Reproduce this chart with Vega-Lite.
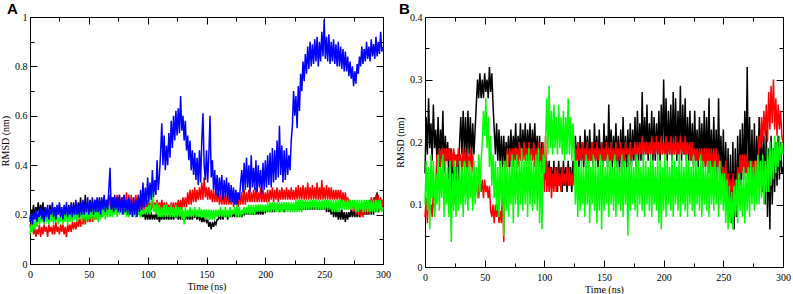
{
"$schema":"https://vega.github.io/schema/vega-lite/v6.json",
"padding":{"left":0,"top":2,"right":0,"bottom":0},
"background":"white",
"config":{"view":{"stroke":null},"axis":{"grid":false,"domainColor":"#000","tickColor":"#000","domainWidth":1,"tickWidth":1,"labelFont":"Liberation Serif, Times New Roman, DejaVu Serif, serif","labelFontSize":10,"labelColor":"#000","titleFont":"Liberation Serif, Times New Roman, DejaVu Serif, serif","titleFontSize":10,"titleFontWeight":"normal","titleColor":"#000","labelFlush":false,"labelOverlap":false}},
"datasets":{
"A":[
{"t":0,"k":0.18,"r":0.16,"g":0.12,"b":0.17},{"t":1,"k":0.22,"r":0.13,"g":0.16,"b":0.2},{"t":2,"k":0.2,"r":0.17,"g":0.13,"b":0.16},{"t":3,"k":0.24,"r":0.12,"g":0.18,"b":0.21},{"t":4,"k":0.19,"r":0.15,"g":0.14,"b":0.18},{"t":5,"k":0.23,"r":0.11,"g":0.19,"b":0.22},{"t":6,"k":0.21,"r":0.14,"g":0.15,"b":0.17},{"t":7,"k":0.25,"r":0.12,"g":0.2,"b":0.21},{"t":8,"k":0.2,"r":0.16,"g":0.16,"b":0.19},{"t":9,"k":0.24,"r":0.11,"g":0.19,"b":0.23},
{"t":10,"k":0.21,"r":0.15,"g":0.17,"b":0.18},{"t":11,"k":0.25,"r":0.12,"g":0.2,"b":0.22},{"t":12,"k":0.2,"r":0.16,"g":0.16,"b":0.17},{"t":13,"k":0.23,"r":0.13,"g":0.21,"b":0.23},{"t":14,"k":0.19,"r":0.15,"g":0.17,"b":0.19},{"t":15,"k":0.22,"r":0.11,"g":0.2,"b":0.24},{"t":16,"k":0.2,"r":0.16,"g":0.16,"b":0.18},{"t":17,"k":0.24,"r":0.13,"g":0.22,"b":0.22},{"t":18,"k":0.19,"r":0.15,"g":0.17,"b":0.2},{"t":19,"k":0.22,"r":0.12,"g":0.21,"b":0.25},
{"t":20,"k":0.2,"r":0.16,"g":0.16,"b":0.19},{"t":21,"k":0.23,"r":0.12,"g":0.2,"b":0.23},{"t":22,"k":0.19,"r":0.17,"g":0.17,"b":0.18},{"t":23,"k":0.22,"r":0.13,"g":0.22,"b":0.24},{"t":24,"k":0.2,"r":0.15,"g":0.16,"b":0.2},{"t":25,"k":0.24,"r":0.12,"g":0.19,"b":0.25},{"t":26,"k":0.19,"r":0.16,"g":0.17,"b":0.19},{"t":27,"k":0.22,"r":0.13,"g":0.21,"b":0.23},{"t":28,"k":0.2,"r":0.16,"g":0.16,"b":0.18},{"t":29,"k":0.23,"r":0.12,"g":0.2,"b":0.24},
{"t":30,"k":0.19,"r":0.15,"g":0.17,"b":0.2},{"t":31,"k":0.22,"r":0.11,"g":0.21,"b":0.25},{"t":32,"k":0.2,"r":0.16,"g":0.16,"b":0.19},{"t":33,"k":0.24,"r":0.13,"g":0.22,"b":0.23},{"t":34,"k":0.19,"r":0.16,"g":0.17,"b":0.2},{"t":35,"k":0.23,"r":0.13,"g":0.21,"b":0.25},{"t":36,"k":0.2,"r":0.17,"g":0.17,"b":0.19},{"t":37,"k":0.25,"r":0.14,"g":0.23,"b":0.24},{"t":38,"k":0.21,"r":0.17,"g":0.18,"b":0.2},{"t":39,"k":0.24,"r":0.14,"g":0.22,"b":0.26},
{"t":40,"k":0.2,"r":0.18,"g":0.17,"b":0.2},{"t":41,"k":0.25,"r":0.15,"g":0.23,"b":0.24},{"t":42,"k":0.21,"r":0.19,"g":0.18,"b":0.19},{"t":43,"k":0.27,"r":0.15,"g":0.24,"b":0.25},{"t":44,"k":0.2,"r":0.19,"g":0.17,"b":0.2},{"t":45,"k":0.25,"r":0.16,"g":0.22,"b":0.26},{"t":46,"k":0.21,"r":0.2,"g":0.18,"b":0.2},{"t":47,"k":0.28,"r":0.16,"g":0.23,"b":0.25},{"t":48,"k":0.21,"r":0.2,"g":0.17,"b":0.21},{"t":49,"k":0.25,"r":0.17,"g":0.24,"b":0.27},
{"t":50,"k":0.2,"r":0.2,"g":0.18,"b":0.2},{"t":51,"k":0.26,"r":0.17,"g":0.22,"b":0.25},{"t":52,"k":0.21,"r":0.21,"g":0.18,"b":0.21},{"t":53,"k":0.25,"r":0.17,"g":0.23,"b":0.27},{"t":54,"k":0.2,"r":0.22,"g":0.17,"b":0.2},{"t":55,"k":0.26,"r":0.18,"g":0.22,"b":0.26},{"t":56,"k":0.22,"r":0.22,"g":0.18,"b":0.21},{"t":57,"k":0.25,"r":0.18,"g":0.23,"b":0.27},{"t":58,"k":0.21,"r":0.23,"g":0.17,"b":0.21},{"t":59,"k":0.27,"r":0.19,"g":0.24,"b":0.26},
{"t":60,"k":0.22,"r":0.23,"g":0.18,"b":0.2},{"t":61,"k":0.26,"r":0.19,"g":0.23,"b":0.27},{"t":62,"k":0.21,"r":0.24,"g":0.19,"b":0.22},{"t":63,"k":0.27,"r":0.2,"g":0.24,"b":0.28},{"t":64,"k":0.22,"r":0.25,"g":0.18,"b":0.21},{"t":65,"k":0.26,"r":0.2,"g":0.23,"b":0.26},{"t":66,"k":0.21,"r":0.25,"g":0.19,"b":0.22},{"t":67,"k":0.28,"r":0.21,"g":0.24,"b":0.3},{"t":68,"k":0.22,"r":0.26,"g":0.19,"b":0.39},{"t":69,"k":0.26,"r":0.21,"g":0.23,"b":0.22},
{"t":70,"k":0.21,"r":0.27,"g":0.19,"b":0.27},{"t":71,"k":0.27,"r":0.21,"g":0.24,"b":0.21},{"t":72,"k":0.22,"r":0.27,"g":0.2,"b":0.28},{"t":73,"k":0.26,"r":0.22,"g":0.24,"b":0.22},{"t":74,"k":0.21,"r":0.28,"g":0.19,"b":0.27},{"t":75,"k":0.27,"r":0.22,"g":0.25,"b":0.21},{"t":76,"k":0.22,"r":0.28,"g":0.2,"b":0.28},{"t":77,"k":0.26,"r":0.22,"g":0.24,"b":0.21},{"t":78,"k":0.21,"r":0.27,"g":0.2,"b":0.27},{"t":79,"k":0.27,"r":0.22,"g":0.25,"b":0.2},
{"t":80,"k":0.22,"r":0.28,"g":0.2,"b":0.28},{"t":81,"k":0.26,"r":0.22,"g":0.24,"b":0.21},{"t":82,"k":0.21,"r":0.29,"g":0.19,"b":0.26},{"t":83,"k":0.25,"r":0.22,"g":0.23,"b":0.2},{"t":84,"k":0.2,"r":0.28,"g":0.19,"b":0.27},{"t":85,"k":0.25,"r":0.21,"g":0.23,"b":0.2},{"t":86,"k":0.21,"r":0.28,"g":0.2,"b":0.26},{"t":87,"k":0.24,"r":0.22,"g":0.22,"b":0.19},{"t":88,"k":0.2,"r":0.27,"g":0.19,"b":0.27},{"t":89,"k":0.24,"r":0.22,"g":0.23,"b":0.2},
{"t":90,"k":0.19,"r":0.28,"g":0.19,"b":0.26},{"t":91,"k":0.23,"r":0.22,"g":0.22,"b":0.19},{"t":92,"k":0.2,"r":0.27,"g":0.2,"b":0.28},{"t":93,"k":0.23,"r":0.21,"g":0.23,"b":0.21},{"t":94,"k":0.19,"r":0.27,"g":0.19,"b":0.3},{"t":95,"k":0.22,"r":0.22,"g":0.22,"b":0.22},{"t":96,"k":0.19,"r":0.26,"g":0.2,"b":0.33},{"t":97,"k":0.22,"r":0.22,"g":0.22,"b":0.23},{"t":98,"k":0.18,"r":0.26,"g":0.2,"b":0.31},{"t":99,"k":0.21,"r":0.22,"g":0.23,"b":0.24},
{"t":100,"k":0.18,"r":0.26,"g":0.2,"b":0.35},{"t":101,"k":0.21,"r":0.22,"g":0.24,"b":0.25},{"t":102,"k":0.18,"r":0.25,"g":0.2,"b":0.33},{"t":103,"k":0.21,"r":0.22,"g":0.25,"b":0.26},{"t":104,"k":0.18,"r":0.26,"g":0.3,"b":0.38},{"t":105,"k":0.2,"r":0.22,"g":0.21,"b":0.27},{"t":106,"k":0.18,"r":0.25,"g":0.24,"b":0.34},{"t":107,"k":0.21,"r":0.22,"g":0.2,"b":0.28},{"t":108,"k":0.18,"r":0.26,"g":0.25,"b":0.42},{"t":109,"k":0.2,"r":0.22,"g":0.19,"b":0.3},
{"t":110,"k":0.17,"r":0.25,"g":0.24,"b":0.36},{"t":111,"k":0.2,"r":0.22,"g":0.19,"b":0.45},{"t":112,"k":0.18,"r":0.26,"g":0.23,"b":0.57},{"t":113,"k":0.21,"r":0.22,"g":0.19,"b":0.4},{"t":114,"k":0.18,"r":0.25,"g":0.24,"b":0.52},{"t":115,"k":0.2,"r":0.21,"g":0.19,"b":0.38},{"t":116,"k":0.18,"r":0.25,"g":0.24,"b":0.48},{"t":117,"k":0.2,"r":0.22,"g":0.19,"b":0.4},{"t":118,"k":0.18,"r":0.24,"g":0.23,"b":0.53},{"t":119,"k":0.21,"r":0.21,"g":0.19,"b":0.43},
{"t":120,"k":0.18,"r":0.25,"g":0.24,"b":0.58},{"t":121,"k":0.2,"r":0.22,"g":0.19,"b":0.47},{"t":122,"k":0.18,"r":0.25,"g":0.23,"b":0.6},{"t":123,"k":0.2,"r":0.21,"g":0.19,"b":0.5},{"t":124,"k":0.19,"r":0.25,"g":0.24,"b":0.62},{"t":125,"k":0.21,"r":0.22,"g":0.19,"b":0.52},{"t":126,"k":0.18,"r":0.26,"g":0.23,"b":0.63},{"t":127,"k":0.2,"r":0.22,"g":0.19,"b":0.53},{"t":128,"k":0.18,"r":0.26,"g":0.23,"b":0.68},{"t":129,"k":0.2,"r":0.22,"g":0.18,"b":0.54},
{"t":130,"k":0.18,"r":0.27,"g":0.22,"b":0.6},{"t":131,"k":0.2,"r":0.23,"g":0.16,"b":0.5},{"t":132,"k":0.18,"r":0.27,"g":0.23,"b":0.58},{"t":133,"k":0.2,"r":0.23,"g":0.19,"b":0.46},{"t":134,"k":0.18,"r":0.29,"g":0.22,"b":0.52},{"t":135,"k":0.2,"r":0.24,"g":0.19,"b":0.42},{"t":136,"k":0.18,"r":0.3,"g":0.23,"b":0.5},{"t":137,"k":0.2,"r":0.24,"g":0.19,"b":0.38},{"t":138,"k":0.18,"r":0.3,"g":0.22,"b":0.46},{"t":139,"k":0.2,"r":0.25,"g":0.19,"b":0.36},
{"t":140,"k":0.19,"r":0.31,"g":0.23,"b":0.45},{"t":141,"k":0.2,"r":0.25,"g":0.19,"b":0.34},{"t":142,"k":0.18,"r":0.3,"g":0.22,"b":0.43},{"t":143,"k":0.2,"r":0.26,"g":0.19,"b":0.32},{"t":144,"k":0.18,"r":0.31,"g":0.23,"b":0.46},{"t":145,"k":0.19,"r":0.26,"g":0.19,"b":0.33},{"t":146,"k":0.17,"r":0.33,"g":0.22,"b":0.5},{"t":147,"k":0.19,"r":0.26,"g":0.19,"b":0.61},{"t":148,"k":0.17,"r":0.35,"g":0.22,"b":0.4},{"t":149,"k":0.19,"r":0.27,"g":0.18,"b":0.34},
{"t":150,"k":0.17,"r":0.31,"g":0.22,"b":0.46},{"t":151,"k":0.18,"r":0.26,"g":0.18,"b":0.33},{"t":152,"k":0.15,"r":0.31,"g":0.22,"b":0.44},{"t":153,"k":0.17,"r":0.26,"g":0.18,"b":0.6},{"t":154,"k":0.14,"r":0.3,"g":0.22,"b":0.35},{"t":155,"k":0.17,"r":0.25,"g":0.18,"b":0.42},{"t":156,"k":0.15,"r":0.3,"g":0.22,"b":0.3},{"t":157,"k":0.17,"r":0.25,"g":0.18,"b":0.38},{"t":158,"k":0.16,"r":0.29,"g":0.22,"b":0.28},{"t":159,"k":0.18,"r":0.25,"g":0.19,"b":0.36},
{"t":160,"k":0.18,"r":0.3,"g":0.22,"b":0.27},{"t":161,"k":0.2,"r":0.24,"g":0.19,"b":0.35},{"t":162,"k":0.18,"r":0.29,"g":0.23,"b":0.28},{"t":163,"k":0.21,"r":0.24,"g":0.19,"b":0.36},{"t":164,"k":0.18,"r":0.29,"g":0.22,"b":0.26},{"t":165,"k":0.21,"r":0.24,"g":0.19,"b":0.34},{"t":166,"k":0.19,"r":0.28,"g":0.23,"b":0.27},{"t":167,"k":0.21,"r":0.24,"g":0.19,"b":0.35},{"t":168,"k":0.18,"r":0.29,"g":0.22,"b":0.26},{"t":169,"k":0.21,"r":0.24,"g":0.19,"b":0.33},
{"t":170,"k":0.19,"r":0.28,"g":0.23,"b":0.25},{"t":171,"k":0.21,"r":0.24,"g":0.19,"b":0.32},{"t":172,"k":0.19,"r":0.29,"g":0.22,"b":0.25},{"t":173,"k":0.21,"r":0.23,"g":0.2,"b":0.31},{"t":174,"k":0.19,"r":0.28,"g":0.23,"b":0.24},{"t":175,"k":0.21,"r":0.24,"g":0.19,"b":0.3},{"t":176,"k":0.19,"r":0.29,"g":0.25,"b":0.24},{"t":177,"k":0.21,"r":0.23,"g":0.19,"b":0.29},{"t":178,"k":0.19,"r":0.28,"g":0.23,"b":0.26},{"t":179,"k":0.21,"r":0.24,"g":0.19,"b":0.33},
{"t":180,"k":0.19,"r":0.29,"g":0.22,"b":0.38},{"t":181,"k":0.21,"r":0.24,"g":0.2,"b":0.29},{"t":182,"k":0.2,"r":0.3,"g":0.23,"b":0.41},{"t":183,"k":0.22,"r":0.24,"g":0.2,"b":0.3},{"t":184,"k":0.2,"r":0.29,"g":0.23,"b":0.43},{"t":185,"k":0.22,"r":0.25,"g":0.2,"b":0.31},{"t":186,"k":0.2,"r":0.3,"g":0.24,"b":0.4},{"t":187,"k":0.22,"r":0.25,"g":0.2,"b":0.29},{"t":188,"k":0.2,"r":0.29,"g":0.24,"b":0.44},{"t":189,"k":0.22,"r":0.25,"g":0.2,"b":0.31},
{"t":190,"k":0.2,"r":0.3,"g":0.24,"b":0.39},{"t":191,"k":0.22,"r":0.25,"g":0.2,"b":0.3},{"t":192,"k":0.2,"r":0.31,"g":0.24,"b":0.42},{"t":193,"k":0.22,"r":0.25,"g":0.21,"b":0.29},{"t":194,"k":0.2,"r":0.29,"g":0.24,"b":0.4},{"t":195,"k":0.22,"r":0.25,"g":0.21,"b":0.31},{"t":196,"k":0.2,"r":0.31,"g":0.24,"b":0.38},{"t":197,"k":0.22,"r":0.25,"g":0.21,"b":0.28},{"t":198,"k":0.2,"r":0.3,"g":0.24,"b":0.41},{"t":199,"k":0.22,"r":0.25,"g":0.21,"b":0.3},
{"t":200,"k":0.21,"r":0.29,"g":0.24,"b":0.42},{"t":201,"k":0.23,"r":0.25,"g":0.21,"b":0.31},{"t":202,"k":0.21,"r":0.3,"g":0.25,"b":0.44},{"t":203,"k":0.23,"r":0.25,"g":0.21,"b":0.32},{"t":204,"k":0.21,"r":0.3,"g":0.25,"b":0.45},{"t":205,"k":0.23,"r":0.26,"g":0.21,"b":0.31},{"t":206,"k":0.21,"r":0.31,"g":0.25,"b":0.47},{"t":207,"k":0.24,"r":0.25,"g":0.21,"b":0.33},{"t":208,"k":0.21,"r":0.3,"g":0.25,"b":0.46},{"t":209,"k":0.24,"r":0.26,"g":0.21,"b":0.34},
{"t":210,"k":0.22,"r":0.31,"g":0.25,"b":0.5},{"t":211,"k":0.24,"r":0.25,"g":0.21,"b":0.35},{"t":212,"k":0.21,"r":0.3,"g":0.25,"b":0.56},{"t":213,"k":0.24,"r":0.26,"g":0.21,"b":0.36},{"t":214,"k":0.22,"r":0.31,"g":0.25,"b":0.48},{"t":215,"k":0.24,"r":0.26,"g":0.21,"b":0.33},{"t":216,"k":0.21,"r":0.3,"g":0.25,"b":0.46},{"t":217,"k":0.24,"r":0.26,"g":0.21,"b":0.34},{"t":218,"k":0.22,"r":0.31,"g":0.25,"b":0.47},{"t":219,"k":0.24,"r":0.26,"g":0.21,"b":0.36},
{"t":220,"k":0.22,"r":0.3,"g":0.25,"b":0.44},{"t":221,"k":0.24,"r":0.26,"g":0.21,"b":0.38},{"t":222,"k":0.22,"r":0.31,"g":0.25,"b":0.5},{"t":223,"k":0.24,"r":0.26,"g":0.21,"b":0.56},{"t":224,"k":0.22,"r":0.3,"g":0.25,"b":0.7},{"t":225,"k":0.24,"r":0.26,"g":0.21,"b":0.6},{"t":226,"k":0.22,"r":0.31,"g":0.26,"b":0.68},{"t":227,"k":0.25,"r":0.26,"g":0.21,"b":0.55},{"t":228,"k":0.22,"r":0.32,"g":0.26,"b":0.72},{"t":229,"k":0.25,"r":0.26,"g":0.21,"b":0.62},
{"t":230,"k":0.22,"r":0.31,"g":0.26,"b":0.77},{"t":231,"k":0.25,"r":0.26,"g":0.21,"b":0.7},{"t":232,"k":0.22,"r":0.32,"g":0.26,"b":0.82},{"t":233,"k":0.25,"r":0.26,"g":0.22,"b":0.74},{"t":234,"k":0.22,"r":0.31,"g":0.26,"b":0.85},{"t":235,"k":0.25,"r":0.26,"g":0.22,"b":0.77},{"t":236,"k":0.22,"r":0.33,"g":0.26,"b":0.88},{"t":237,"k":0.25,"r":0.26,"g":0.22,"b":0.79},{"t":238,"k":0.22,"r":0.31,"g":0.26,"b":0.9},{"t":239,"k":0.25,"r":0.26,"g":0.22,"b":0.8},
{"t":240,"k":0.22,"r":0.32,"g":0.26,"b":0.89},{"t":241,"k":0.25,"r":0.26,"g":0.22,"b":0.81},{"t":242,"k":0.22,"r":0.31,"g":0.26,"b":0.91},{"t":243,"k":0.25,"r":0.26,"g":0.22,"b":0.82},{"t":244,"k":0.22,"r":0.33,"g":0.26,"b":0.92},{"t":245,"k":0.25,"r":0.26,"g":0.22,"b":0.8},{"t":246,"k":0.22,"r":0.31,"g":0.26,"b":0.9},{"t":247,"k":0.25,"r":0.26,"g":0.22,"b":0.82},{"t":248,"k":0.22,"r":0.34,"g":0.26,"b":0.94},{"t":249,"k":0.25,"r":0.26,"g":0.22,"b":0.84},
{"t":250,"k":0.22,"r":0.31,"g":0.26,"b":0.99},{"t":251,"k":0.24,"r":0.26,"g":0.22,"b":0.83},{"t":252,"k":0.21,"r":0.32,"g":0.26,"b":0.92},{"t":253,"k":0.24,"r":0.26,"g":0.22,"b":0.82},{"t":254,"k":0.21,"r":0.31,"g":0.26,"b":0.93},{"t":255,"k":0.23,"r":0.26,"g":0.22,"b":0.81},{"t":256,"k":0.2,"r":0.31,"g":0.26,"b":0.9},{"t":257,"k":0.23,"r":0.26,"g":0.21,"b":0.82},{"t":258,"k":0.19,"r":0.3,"g":0.26,"b":0.91},{"t":259,"k":0.23,"r":0.26,"g":0.21,"b":0.81},
{"t":260,"k":0.19,"r":0.3,"g":0.26,"b":0.89},{"t":261,"k":0.22,"r":0.26,"g":0.21,"b":0.8},{"t":262,"k":0.18,"r":0.3,"g":0.26,"b":0.9},{"t":263,"k":0.22,"r":0.26,"g":0.21,"b":0.8},{"t":264,"k":0.18,"r":0.3,"g":0.26,"b":0.88},{"t":265,"k":0.22,"r":0.25,"g":0.22,"b":0.79},{"t":266,"k":0.18,"r":0.29,"g":0.26,"b":0.87},{"t":267,"k":0.21,"r":0.25,"g":0.22,"b":0.78},{"t":268,"k":0.17,"r":0.29,"g":0.26,"b":0.86},{"t":269,"k":0.21,"r":0.24,"g":0.22,"b":0.78},
{"t":270,"k":0.18,"r":0.27,"g":0.26,"b":0.84},{"t":271,"k":0.21,"r":0.24,"g":0.22,"b":0.76},{"t":272,"k":0.19,"r":0.26,"g":0.26,"b":0.82},{"t":273,"k":0.22,"r":0.22,"g":0.22,"b":0.75},{"t":274,"k":0.19,"r":0.25,"g":0.26,"b":0.8},{"t":275,"k":0.22,"r":0.21,"g":0.22,"b":0.72},{"t":276,"k":0.19,"r":0.25,"g":0.26,"b":0.78},{"t":277,"k":0.22,"r":0.2,"g":0.21,"b":0.73},{"t":278,"k":0.19,"r":0.24,"g":0.26,"b":0.81},{"t":279,"k":0.23,"r":0.2,"g":0.21,"b":0.77},
{"t":280,"k":0.19,"r":0.24,"g":0.26,"b":0.84},{"t":281,"k":0.24,"r":0.19,"g":0.22,"b":0.8},{"t":282,"k":0.2,"r":0.24,"g":0.26,"b":0.88},{"t":283,"k":0.24,"r":0.19,"g":0.21,"b":0.81},{"t":284,"k":0.2,"r":0.24,"g":0.26,"b":0.87},{"t":285,"k":0.25,"r":0.2,"g":0.21,"b":0.82},{"t":286,"k":0.2,"r":0.25,"g":0.26,"b":0.9},{"t":287,"k":0.25,"r":0.2,"g":0.21,"b":0.83},{"t":288,"k":0.2,"r":0.25,"g":0.26,"b":0.88},{"t":289,"k":0.26,"r":0.21,"g":0.21,"b":0.82},
{"t":290,"k":0.2,"r":0.27,"g":0.26,"b":0.91},{"t":291,"k":0.26,"r":0.21,"g":0.21,"b":0.84},{"t":292,"k":0.2,"r":0.27,"g":0.26,"b":0.89},{"t":293,"k":0.27,"r":0.22,"g":0.21,"b":0.83},{"t":294,"k":0.21,"r":0.28,"g":0.26,"b":0.92},{"t":295,"k":0.29,"r":0.22,"g":0.21,"b":0.84},{"t":296,"k":0.21,"r":0.28,"g":0.26,"b":0.9},{"t":297,"k":0.26,"r":0.22,"g":0.21,"b":0.85},{"t":298,"k":0.22,"r":0.27,"g":0.26,"b":0.94},{"t":299,"k":0.26,"r":0.22,"g":0.21,"b":0.86},
{"t":300,"k":0.22,"r":0.26,"g":0.23,"b":0.88}
],
"B":[
{"t":0,"k":0.15,"r":0.08,"g":0.1},{"t":1,"k":0.24,"r":0.11,"g":0.17},{"t":2,"k":0.18,"r":0.07,"g":0.09},{"t":3,"k":0.27,"r":0.12,"g":0.16},{"t":4,"k":0.19,"r":0.09,"g":0.06},{"t":5,"k":0.23,"r":0.1,"g":0.18},{"t":6,"k":0.17,"r":0.08,"g":0.11},{"t":7,"k":0.26,"r":0.12,"g":0.17},{"t":8,"k":0.19,"r":0.09,"g":0.08},{"t":9,"k":0.22,"r":0.13,"g":0.15},
{"t":10,"k":0.17,"r":0.18,"g":0.1},{"t":11,"k":0.24,"r":0.16,"g":0.18},{"t":12,"k":0.16,"r":0.19,"g":0.09},{"t":13,"k":0.22,"r":0.16,"g":0.16},{"t":14,"k":0.18,"r":0.19,"g":0.11},{"t":15,"k":0.25,"r":0.17,"g":0.18},{"t":16,"k":0.15,"r":0.19,"g":0.08},{"t":17,"k":0.21,"r":0.16,"g":0.17},{"t":18,"k":0.17,"r":0.19,"g":0.1},{"t":19,"k":0.2,"r":0.17,"g":0.16},
{"t":20,"k":0.14,"r":0.19,"g":0.08},{"t":21,"k":0.19,"r":0.16,"g":0.17},{"t":22,"k":0.12,"r":0.19,"g":0.04},{"t":23,"k":0.18,"r":0.16,"g":0.15},{"t":24,"k":0.1,"r":0.19,"g":0.09},{"t":25,"k":0.16,"r":0.17,"g":0.17},{"t":26,"k":0.1,"r":0.18,"g":0.08},{"t":27,"k":0.18,"r":0.16,"g":0.16},{"t":28,"k":0.11,"r":0.19,"g":0.09},{"t":29,"k":0.2,"r":0.17,"g":0.17},
{"t":30,"k":0.24,"r":0.18,"g":0.1},{"t":31,"k":0.18,"r":0.15,"g":0.16},{"t":32,"k":0.25,"r":0.19,"g":0.08},{"t":33,"k":0.18,"r":0.16,"g":0.17},{"t":34,"k":0.24,"r":0.19,"g":0.1},{"t":35,"k":0.17,"r":0.15,"g":0.16},{"t":36,"k":0.25,"r":0.18,"g":0.09},{"t":37,"k":0.18,"r":0.16,"g":0.17},{"t":38,"k":0.24,"r":0.19,"g":0.11},{"t":39,"k":0.17,"r":0.15,"g":0.16},
{"t":40,"k":0.23,"r":0.18,"g":0.09},{"t":41,"k":0.18,"r":0.14,"g":0.17},{"t":42,"k":0.22,"r":0.14,"g":0.1},{"t":43,"k":0.26,"r":0.12,"g":0.16},{"t":44,"k":0.3,"r":0.14,"g":0.11},{"t":45,"k":0.27,"r":0.11,"g":0.18},{"t":46,"k":0.31,"r":0.14,"g":0.12},{"t":47,"k":0.27,"r":0.12,"g":0.17},{"t":48,"k":0.3,"r":0.14,"g":0.2},{"t":49,"k":0.27,"r":0.11,"g":0.25},
{"t":50,"k":0.31,"r":0.14,"g":0.21},{"t":51,"k":0.28,"r":0.12,"g":0.27},{"t":52,"k":0.3,"r":0.13,"g":0.19},{"t":53,"k":0.27,"r":0.11,"g":0.24},{"t":54,"k":0.32,"r":0.13,"g":0.16},{"t":55,"k":0.28,"r":0.09,"g":0.21},{"t":56,"k":0.31,"r":0.08,"g":0.13},{"t":57,"k":0.26,"r":0.1,"g":0.18},{"t":58,"k":0.22,"r":0.07,"g":0.11},{"t":59,"k":0.18,"r":0.1,"g":0.17},
{"t":60,"k":0.23,"r":0.08,"g":0.09},{"t":61,"k":0.17,"r":0.1,"g":0.16},{"t":62,"k":0.22,"r":0.07,"g":0.08},{"t":63,"k":0.16,"r":0.09,"g":0.17},{"t":64,"k":0.21,"r":0.07,"g":0.1},{"t":65,"k":0.16,"r":0.12,"g":0.16},{"t":66,"k":0.21,"r":0.04,"g":0.05},{"t":67,"k":0.16,"r":0.17,"g":0.17},{"t":68,"k":0.2,"r":0.16,"g":0.09},{"t":69,"k":0.17,"r":0.19,"g":0.18},
{"t":70,"k":0.21,"r":0.16,"g":0.08},{"t":71,"k":0.16,"r":0.19,"g":0.16},{"t":72,"k":0.22,"r":0.17,"g":0.1},{"t":73,"k":0.17,"r":0.19,"g":0.18},{"t":74,"k":0.21,"r":0.16,"g":0.07},{"t":75,"k":0.18,"r":0.19,"g":0.17},{"t":76,"k":0.23,"r":0.17,"g":0.1},{"t":77,"k":0.17,"r":0.19,"g":0.18},{"t":78,"k":0.21,"r":0.16,"g":0.08},{"t":79,"k":0.18,"r":0.2,"g":0.17},
{"t":80,"k":0.23,"r":0.17,"g":0.1},{"t":81,"k":0.17,"r":0.19,"g":0.19},{"t":82,"k":0.22,"r":0.17,"g":0.09},{"t":83,"k":0.18,"r":0.2,"g":0.17},{"t":84,"k":0.23,"r":0.17,"g":0.1},{"t":85,"k":0.17,"r":0.19,"g":0.18},{"t":86,"k":0.22,"r":0.17,"g":0.08},{"t":87,"k":0.18,"r":0.2,"g":0.19},{"t":88,"k":0.23,"r":0.17,"g":0.1},{"t":89,"k":0.17,"r":0.19,"g":0.18},
{"t":90,"k":0.22,"r":0.17,"g":0.09},{"t":91,"k":0.18,"r":0.2,"g":0.17},{"t":92,"k":0.23,"r":0.16,"g":0.1},{"t":93,"k":0.17,"r":0.19,"g":0.18},{"t":94,"k":0.21,"r":0.17,"g":0.09},{"t":95,"k":0.16,"r":0.2,"g":0.19},{"t":96,"k":0.21,"r":0.16,"g":0.07},{"t":97,"k":0.15,"r":0.19,"g":0.17},{"t":98,"k":0.2,"r":0.16,"g":0.06},{"t":99,"k":0.15,"r":0.2,"g":0.18},
{"t":100,"k":0.18,"r":0.12,"g":0.15},{"t":101,"k":0.14,"r":0.21,"g":0.2},{"t":102,"k":0.17,"r":0.12,"g":0.27},{"t":103,"k":0.13,"r":0.16,"g":0.18},{"t":104,"k":0.17,"r":0.12,"g":0.29},{"t":105,"k":0.13,"r":0.16,"g":0.19},{"t":106,"k":0.16,"r":0.11,"g":0.25},{"t":107,"k":0.13,"r":0.15,"g":0.18},{"t":108,"k":0.17,"r":0.12,"g":0.26},{"t":109,"k":0.13,"r":0.16,"g":0.19},
{"t":110,"k":0.16,"r":0.12,"g":0.24},{"t":111,"k":0.12,"r":0.16,"g":0.18},{"t":112,"k":0.17,"r":0.13,"g":0.26},{"t":113,"k":0.13,"r":0.15,"g":0.19},{"t":114,"k":0.16,"r":0.12,"g":0.24},{"t":115,"k":0.12,"r":0.16,"g":0.18},{"t":116,"k":0.17,"r":0.13,"g":0.25},{"t":117,"k":0.13,"r":0.15,"g":0.17},{"t":118,"k":0.16,"r":0.13,"g":0.24},{"t":119,"k":0.12,"r":0.16,"g":0.18},
{"t":120,"k":0.17,"r":0.13,"g":0.27},{"t":121,"k":0.13,"r":0.16,"g":0.18},{"t":122,"k":0.16,"r":0.13,"g":0.24},{"t":123,"k":0.12,"r":0.15,"g":0.17},{"t":124,"k":0.17,"r":0.13,"g":0.23},{"t":125,"k":0.14,"r":0.16,"g":0.18},{"t":126,"k":0.21,"r":0.19,"g":0.1},{"t":127,"k":0.17,"r":0.17,"g":0.17},{"t":128,"k":0.2,"r":0.2,"g":0.08},{"t":129,"k":0.16,"r":0.17,"g":0.16},
{"t":130,"k":0.21,"r":0.19,"g":0.09},{"t":131,"k":0.17,"r":0.17,"g":0.17},{"t":132,"k":0.2,"r":0.2,"g":0.1},{"t":133,"k":0.16,"r":0.17,"g":0.16},{"t":134,"k":0.22,"r":0.19,"g":0.08},{"t":135,"k":0.17,"r":0.17,"g":0.18},{"t":136,"k":0.21,"r":0.2,"g":0.1},{"t":137,"k":0.16,"r":0.17,"g":0.17},{"t":138,"k":0.22,"r":0.19,"g":0.07},{"t":139,"k":0.17,"r":0.17,"g":0.16},
{"t":140,"k":0.2,"r":0.2,"g":0.1},{"t":141,"k":0.16,"r":0.17,"g":0.18},{"t":142,"k":0.23,"r":0.19,"g":0.09},{"t":143,"k":0.17,"r":0.17,"g":0.17},{"t":144,"k":0.21,"r":0.2,"g":0.07},{"t":145,"k":0.16,"r":0.17,"g":0.16},{"t":146,"k":0.22,"r":0.19,"g":0.09},{"t":147,"k":0.17,"r":0.17,"g":0.18},{"t":148,"k":0.2,"r":0.2,"g":0.06},{"t":149,"k":0.16,"r":0.17,"g":0.17},
{"t":150,"k":0.23,"r":0.19,"g":0.09},{"t":151,"k":0.17,"r":0.17,"g":0.16},{"t":152,"k":0.21,"r":0.2,"g":0.1},{"t":153,"k":0.16,"r":0.17,"g":0.18},{"t":154,"k":0.26,"r":0.19,"g":0.08},{"t":155,"k":0.17,"r":0.17,"g":0.17},{"t":156,"k":0.22,"r":0.2,"g":0.1},{"t":157,"k":0.16,"r":0.17,"g":0.16},{"t":158,"k":0.21,"r":0.19,"g":0.09},{"t":159,"k":0.17,"r":0.17,"g":0.18},
{"t":160,"k":0.23,"r":0.2,"g":0.08},{"t":161,"k":0.16,"r":0.17,"g":0.17},{"t":162,"k":0.21,"r":0.19,"g":0.1},{"t":163,"k":0.15,"r":0.17,"g":0.16},{"t":164,"k":0.22,"r":0.2,"g":0.09},{"t":165,"k":0.16,"r":0.17,"g":0.18},{"t":166,"k":0.24,"r":0.19,"g":0.08},{"t":167,"k":0.16,"r":0.17,"g":0.17},{"t":168,"k":0.21,"r":0.2,"g":0.1},{"t":169,"k":0.16,"r":0.18,"g":0.16},
{"t":170,"k":0.22,"r":0.19,"g":0.05},{"t":171,"k":0.16,"r":0.17,"g":0.18},{"t":172,"k":0.23,"r":0.2,"g":0.09},{"t":173,"k":0.16,"r":0.17,"g":0.17},{"t":174,"k":0.22,"r":0.19,"g":0.1},{"t":175,"k":0.17,"r":0.18,"g":0.16},{"t":176,"k":0.24,"r":0.2,"g":0.09},{"t":177,"k":0.16,"r":0.17,"g":0.18},{"t":178,"k":0.25,"r":0.2,"g":0.08},{"t":179,"k":0.17,"r":0.18,"g":0.17},
{"t":180,"k":0.23,"r":0.2,"g":0.1},{"t":181,"k":0.17,"r":0.18,"g":0.16},{"t":182,"k":0.28,"r":0.21,"g":0.09},{"t":183,"k":0.17,"r":0.18,"g":0.18},{"t":184,"k":0.24,"r":0.2,"g":0.08},{"t":185,"k":0.18,"r":0.18,"g":0.17},{"t":186,"k":0.26,"r":0.2,"g":0.1},{"t":187,"k":0.17,"r":0.18,"g":0.16},{"t":188,"k":0.23,"r":0.2,"g":0.09},{"t":189,"k":0.18,"r":0.18,"g":0.18},
{"t":190,"k":0.25,"r":0.21,"g":0.08},{"t":191,"k":0.17,"r":0.18,"g":0.17},{"t":192,"k":0.24,"r":0.2,"g":0.1},{"t":193,"k":0.17,"r":0.18,"g":0.16},{"t":194,"k":0.23,"r":0.21,"g":0.09},{"t":195,"k":0.18,"r":0.18,"g":0.18},{"t":196,"k":0.25,"r":0.2,"g":0.07},{"t":197,"k":0.17,"r":0.18,"g":0.17},{"t":198,"k":0.26,"r":0.21,"g":0.06},{"t":199,"k":0.18,"r":0.18,"g":0.16},
{"t":200,"k":0.3,"r":0.2,"g":0.09},{"t":201,"k":0.18,"r":0.18,"g":0.18},{"t":202,"k":0.27,"r":0.21,"g":0.08},{"t":203,"k":0.17,"r":0.18,"g":0.17},{"t":204,"k":0.25,"r":0.2,"g":0.1},{"t":205,"k":0.18,"r":0.18,"g":0.16},{"t":206,"k":0.26,"r":0.21,"g":0.09},{"t":207,"k":0.17,"r":0.18,"g":0.18},{"t":208,"k":0.28,"r":0.2,"g":0.08},{"t":209,"k":0.18,"r":0.18,"g":0.17},
{"t":210,"k":0.27,"r":0.21,"g":0.1},{"t":211,"k":0.17,"r":0.18,"g":0.16},{"t":212,"k":0.25,"r":0.2,"g":0.09},{"t":213,"k":0.18,"r":0.18,"g":0.18},{"t":214,"k":0.29,"r":0.21,"g":0.08},{"t":215,"k":0.17,"r":0.18,"g":0.17},{"t":216,"k":0.26,"r":0.2,"g":0.1},{"t":217,"k":0.18,"r":0.18,"g":0.16},{"t":218,"k":0.27,"r":0.21,"g":0.09},{"t":219,"k":0.17,"r":0.18,"g":0.18},
{"t":220,"k":0.24,"r":0.2,"g":0.08},{"t":221,"k":0.17,"r":0.18,"g":0.17},{"t":222,"k":0.25,"r":0.2,"g":0.1},{"t":223,"k":0.17,"r":0.17,"g":0.16},{"t":224,"k":0.23,"r":0.2,"g":0.09},{"t":225,"k":0.16,"r":0.17,"g":0.18},{"t":226,"k":0.25,"r":0.19,"g":0.08},{"t":227,"k":0.17,"r":0.17,"g":0.17},{"t":228,"k":0.22,"r":0.19,"g":0.1},{"t":229,"k":0.16,"r":0.17,"g":0.16},
{"t":230,"k":0.24,"r":0.19,"g":0.09},{"t":231,"k":0.17,"r":0.17,"g":0.18},{"t":232,"k":0.23,"r":0.19,"g":0.08},{"t":233,"k":0.16,"r":0.16,"g":0.17},{"t":234,"k":0.25,"r":0.19,"g":0.1},{"t":235,"k":0.16,"r":0.16,"g":0.16},{"t":236,"k":0.24,"r":0.19,"g":0.09},{"t":237,"k":0.15,"r":0.16,"g":0.17},{"t":238,"k":0.27,"r":0.19,"g":0.08},{"t":239,"k":0.15,"r":0.16,"g":0.17},
{"t":240,"k":0.22,"r":0.19,"g":0.1},{"t":241,"k":0.15,"r":0.16,"g":0.16},{"t":242,"k":0.24,"r":0.19,"g":0.09},{"t":243,"k":0.15,"r":0.16,"g":0.17},{"t":244,"k":0.22,"r":0.19,"g":0.1},{"t":245,"k":0.14,"r":0.16,"g":0.16},{"t":246,"k":0.27,"r":0.18,"g":0.08},{"t":247,"k":0.14,"r":0.16,"g":0.17},{"t":248,"k":0.21,"r":0.17,"g":0.1},{"t":249,"k":0.13,"r":0.15,"g":0.15},
{"t":250,"k":0.22,"r":0.16,"g":0.09},{"t":251,"k":0.12,"r":0.13,"g":0.15},{"t":252,"k":0.2,"r":0.17,"g":0.07},{"t":253,"k":0.1,"r":0.12,"g":0.14},{"t":254,"k":0.19,"r":0.15,"g":0.06},{"t":255,"k":0.08,"r":0.12,"g":0.13},{"t":256,"k":0.18,"r":0.14,"g":0.07},{"t":257,"k":0.07,"r":0.11,"g":0.12},{"t":258,"k":0.2,"r":0.15,"g":0.06},{"t":259,"k":0.06,"r":0.11,"g":0.13},
{"t":260,"k":0.19,"r":0.14,"g":0.08},{"t":261,"k":0.08,"r":0.12,"g":0.14},{"t":262,"k":0.21,"r":0.16,"g":0.07},{"t":263,"k":0.11,"r":0.13,"g":0.15},{"t":264,"k":0.22,"r":0.18,"g":0.09},{"t":265,"k":0.13,"r":0.15,"g":0.14},{"t":266,"k":0.23,"r":0.18,"g":0.08},{"t":267,"k":0.14,"r":0.15,"g":0.16},{"t":268,"k":0.25,"r":0.18,"g":0.07},{"t":269,"k":0.15,"r":0.15,"g":0.15},
{"t":270,"k":0.32,"r":0.18,"g":0.09},{"t":271,"k":0.14,"r":0.15,"g":0.16},{"t":272,"k":0.24,"r":0.17,"g":0.08},{"t":273,"k":0.13,"r":0.15,"g":0.17},{"t":274,"k":0.22,"r":0.17,"g":0.1},{"t":275,"k":0.12,"r":0.15,"g":0.16},{"t":276,"k":0.23,"r":0.17,"g":0.09},{"t":277,"k":0.13,"r":0.15,"g":0.17},{"t":278,"k":0.21,"r":0.17,"g":0.1},{"t":279,"k":0.14,"r":0.16,"g":0.18},
{"t":280,"k":0.24,"r":0.21,"g":0.1},{"t":281,"k":0.13,"r":0.19,"g":0.17},{"t":282,"k":0.23,"r":0.24,"g":0.11},{"t":283,"k":0.12,"r":0.2,"g":0.18},{"t":284,"k":0.21,"r":0.25,"g":0.1},{"t":285,"k":0.1,"r":0.21,"g":0.17},{"t":286,"k":0.22,"r":0.26,"g":0.12},{"t":287,"k":0.08,"r":0.2,"g":0.19},{"t":288,"k":0.19,"r":0.28,"g":0.12},{"t":289,"k":0.06,"r":0.22,"g":0.2},
{"t":290,"k":0.21,"r":0.29,"g":0.13},{"t":291,"k":0.1,"r":0.23,"g":0.19},{"t":292,"k":0.19,"r":0.3,"g":0.14},{"t":293,"k":0.12,"r":0.22,"g":0.21},{"t":294,"k":0.2,"r":0.27,"g":0.15},{"t":295,"k":0.13,"r":0.21,"g":0.2},{"t":296,"k":0.21,"r":0.26,"g":0.16},{"t":297,"k":0.14,"r":0.22,"g":0.21},{"t":298,"k":0.2,"r":0.25,"g":0.17},{"t":299,"k":0.15,"r":0.21,"g":0.2},
{"t":300,"k":0.16,"r":0.2,"g":0.18}
]},
"hconcat":[
{"title":{"text":"A","anchor":"start","frame":"group","font":"Liberation Sans","fontSize":15,"fontWeight":"bold","color":"#000","dx":-23,"offset":-5},
"width":353,"height":247,
"data":{"name":"A"},
"transform":[{"fold":["k","r","g","b"],"as":["s","v"]}],
"layer":[
{"mark":{"type":"line","strokeWidth":1.5},
"encoding":{"x":{"field":"t","type":"quantitative","scale":{"domain":[0,300],"nice":false,"zero":false},"axis":{"orient":"bottom","values":[0,50,100,150,200,250,300],"tickSize":-7,"labelPadding":12,"format":"d","title":"Time (ns)","titlePadding":2}},
"y":{"field":"v","type":"quantitative","scale":{"domain":[0,1],"nice":false},"axis":{"orient":"left","values":[0,0.2,0.4,0.6,0.8,1],"tickSize":-7,"labelPadding":10,"format":"~g","title":"RMSD (nm)","titlePadding":4}},
"color":{"field":"s","type":"nominal","scale":{"domain":["k","r","g","b"],"range":["#000000","#ff0000","#00ff00","#0000ff"]},"legend":null}}},
{"mark":{"type":"line","opacity":0},
"encoding":{"x":{"field":"t","type":"quantitative","axis":{"orient":"top","values":[0,50,100,150,200,250,300],"tickSize":-7,"labels":false,"title":null}},
"y":{"field":"v","type":"quantitative","axis":{"orient":"right","values":[0,0.2,0.4,0.6,0.8,1],"tickSize":-7,"labels":false,"title":null}}}},
{"mark":{"type":"line","opacity":0},
"encoding":{"x":{"field":"t","type":"quantitative","axis":{"orient":"bottom","values":[25,75,125,175,225,275],"tickSize":-4,"labels":false,"domain":false,"title":null}},
"y":{"field":"v","type":"quantitative","axis":{"orient":"left","values":[0.1,0.3,0.5,0.7,0.9],"tickSize":-4,"labels":false,"domain":false,"title":null}}}},
{"mark":{"type":"line","opacity":0},
"encoding":{"x":{"field":"t","type":"quantitative","axis":{"orient":"top","values":[25,75,125,175,225,275],"tickSize":-4,"labels":false,"domain":false,"title":null}},
"y":{"field":"v","type":"quantitative","axis":{"orient":"right","values":[0.1,0.3,0.5,0.7,0.9],"tickSize":-4,"labels":false,"domain":false,"title":null}}}}
],
"resolve":{"axis":{"x":"independent","y":"independent"}}},
{"title":{"text":"B","anchor":"start","frame":"group","font":"Liberation Sans","fontSize":15,"fontWeight":"bold","color":"#000","dx":-26,"offset":-5},
"width":358,"height":250,
"data":{"name":"B"},
"transform":[{"fold":["k","r","g"],"as":["s","v"]}],
"layer":[
{"mark":{"type":"line","strokeWidth":1.5},
"encoding":{"x":{"field":"t","type":"quantitative","scale":{"domain":[0,300],"nice":false,"zero":false},"axis":{"orient":"bottom","values":[0,50,100,150,200,250,300],"tickSize":-7,"labelPadding":12,"format":"d","title":"Time (ns)","titlePadding":2}},
"y":{"field":"v","type":"quantitative","scale":{"domain":[0,0.4],"nice":false},"axis":{"orient":"left","values":[0,0.1,0.2,0.3,0.4],"tickSize":-7,"labelPadding":10,"format":"~g","title":"RMSD (nm)","titlePadding":4}},
"color":{"field":"s","type":"nominal","scale":{"domain":["k","r","g"],"range":["#000000","#ff0000","#00ff00"]},"legend":null}}},
{"mark":{"type":"line","opacity":0},
"encoding":{"x":{"field":"t","type":"quantitative","axis":{"orient":"top","values":[0,50,100,150,200,250,300],"tickSize":-7,"labels":false,"title":null}},
"y":{"field":"v","type":"quantitative","axis":{"orient":"right","values":[0,0.1,0.2,0.3,0.4],"tickSize":-7,"labels":false,"title":null}}}},
{"mark":{"type":"line","opacity":0},
"encoding":{"x":{"field":"t","type":"quantitative","axis":{"orient":"bottom","values":[25,75,125,175,225,275],"tickSize":-4,"labels":false,"domain":false,"title":null}},
"y":{"field":"v","type":"quantitative","axis":{"orient":"left","values":[0.05,0.15,0.25,0.35],"tickSize":-4,"labels":false,"domain":false,"title":null}}}},
{"mark":{"type":"line","opacity":0},
"encoding":{"x":{"field":"t","type":"quantitative","axis":{"orient":"top","values":[25,75,125,175,225,275],"tickSize":-4,"labels":false,"domain":false,"title":null}},
"y":{"field":"v","type":"quantitative","axis":{"orient":"right","values":[0.05,0.15,0.25,0.35],"tickSize":-4,"labels":false,"domain":false,"title":null}}}}
],
"resolve":{"axis":{"x":"independent","y":"independent"}}}
],
"spacing":42,
"bounds":"flush"
}
